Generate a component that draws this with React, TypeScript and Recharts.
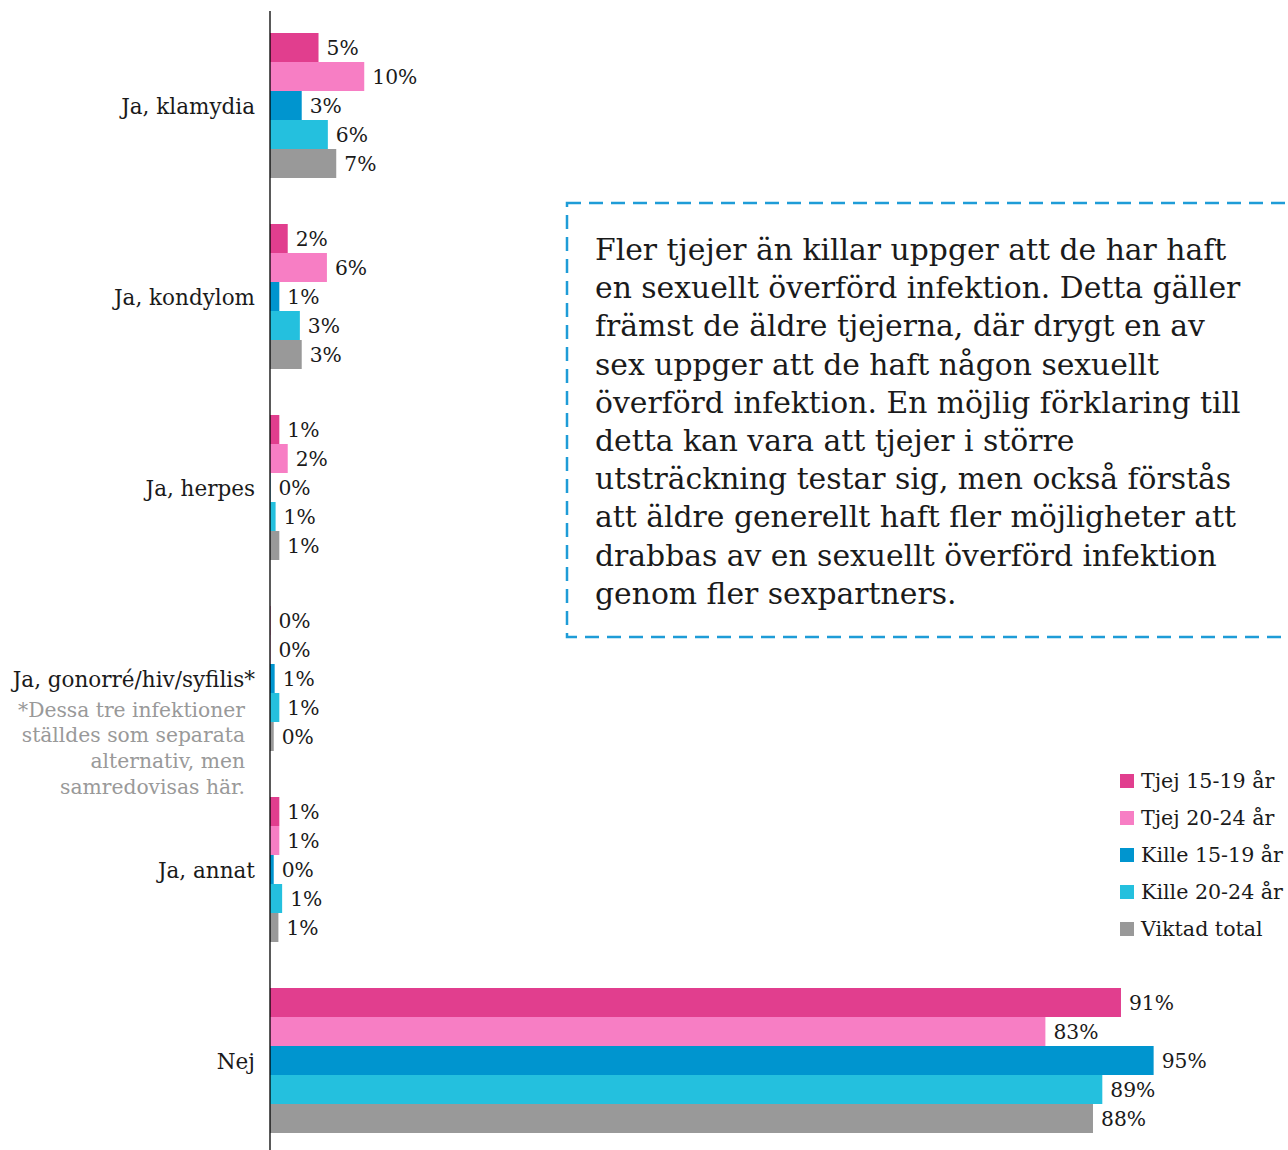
import React from "react";
import { BarChart, Bar, XAxis, YAxis, LabelList } from "recharts";

const categories = [
  "Ja, klamydia",
  "Ja, kondylom",
  "Ja, herpes",
  "Ja, gonorré/hiv/syfilis*",
  "Ja, annat",
  "Nej",
];
const tjej1519 = [5.2, 1.9, 1.0, 0.05, 1.0, 91.2];
const tjej2024 = [10.1, 6.1, 1.9, 0.05, 1.0, 83.1];
const kille1519 = [3.4, 1.0, 0.05, 0.5, 0.4, 94.7];
const kille2024 = [6.2, 3.2, 0.6, 1.0, 1.3, 89.2];
const viktadTotal = [7.1, 3.4, 1.0, 0.4, 0.9, 88.2];

const seriesNames = ["Tjej 15-19 år", "Tjej 20-24 år", "Kille 15-19 år", "Kille 20-24 år", "Viktad total"];
const seriesKeys = ["t1519", "t2024", "k1519", "k2024", "total"];
const seriesColors = ["#E13E8E", "#F77EC4", "#0095CF", "#24C0DE", "#999999"];

const footnoteLines = ["*Dessa tre infektioner", "ställdes som separata", "alternativ, men", "samredovisas här."];

const boxLines = [
  "Fler tjejer än killar uppger att de har haft",
  "en sexuellt överförd infektion. Detta gäller",
  "främst de äldre tjejerna, där drygt en av",
  "sex uppger att de haft någon sexuellt",
  "överförd infektion. En möjlig förklaring till",
  "detta kan vara att tjejer i större",
  "utsträckning testar sig, men också förstås",
  "att äldre generellt haft fler möjligheter att",
  "drabbas av en sexuellt överförd infektion",
  "genom fler sexpartners.",
];

const data = categories.map((c, i) => ({
  name: c,
  t1519: tjej1519[i],
  t2024: tjej2024[i],
  k1519: kille1519[i],
  k2024: kille2024[i],
  total: viktadTotal[i],
}));

const FONT = "'DejaVu Serif', serif";

const CatTick = (props: any) => {
  const { x, y, payload } = props;
  const isStar = payload.value === categories[3];
  return (
    <g>
      <text x={x} y={y} dy={7} textAnchor="end" fontFamily={FONT} fontSize={21.5} fill="#1a1a1a">
        {payload.value}
      </text>
      {isStar &&
        footnoteLines.map((l, i) => (
          <text key={i} x={x - 10} y={y + 31 + i * 25.7} dy={6} textAnchor="end" fontFamily={FONT} fontSize={20.3} fill="#999">
            {l}
          </text>
        ))}
    </g>
  );
};

const fmt = (v: any) => `${Math.round(Number(v))}%`;

export default function App() {
  return (
    <div style={{ position: "absolute", left: 0, top: 0, width: 1288, height: 1150, overflow: "hidden", background: "#fff" }}>
      <BarChart
        width={1288}
        height={1157}
        data={data}
        layout="vertical"
        margin={{ top: 11, right: 0, bottom: 0, left: 0 }}
        barCategoryGap={22}
        barGap={0}
      >
        <XAxis type="number" hide domain={[0, 109.1]} allowDataOverflow />
        <YAxis
          type="category"
          dataKey="name"
          width={270}
          tick={<CatTick />}
          tickLine={false}
          tickSize={0}
          tickMargin={15}
          axisLine={{ stroke: "#000", strokeWidth: 1.3 }}
          interval={0}
        />
        {seriesKeys.map((k, i) => (
          <Bar key={k} dataKey={k} name={seriesNames[i]} fill={seriesColors[i]} isAnimationActive={false}>
            <LabelList dataKey={k} position="right" offset={8} formatter={fmt} fontFamily={FONT} fontSize={20.3} fill="#1a1a1a" />
          </Bar>
        ))}
      </BarChart>
      <svg width={1288} height={1150} style={{ position: "absolute", left: 0, top: 0, pointerEvents: "none" }}>
        <rect x={567} y={203} width={800} height={434} fill="#fff" stroke="#1E9CD7" strokeWidth={2.5} strokeDasharray="14 8" />
        {boxLines.map((l, i) => (
          <text key={i} x={595} y={260 + i * 38.2} fontFamily={FONT} fontSize={29.8} fill="#1a1a1a">
            {l}
          </text>
        ))}
      </svg>
      <div style={{ position: "absolute", left: 1120, top: 762, width: 168, fontFamily: FONT, fontSize: 20.6, color: "#1a1a1a" }}>
        {seriesNames.map((n, i) => (
          <div key={n} style={{ display: "flex", alignItems: "center", height: 37 }}>
            <span style={{ display: "inline-block", width: 14, height: 14, background: seriesColors[i], marginRight: 7, flexShrink: 0 }} />
            <span style={{ whiteSpace: "nowrap" }}>{n}</span>
          </div>
        ))}
      </div>
    </div>
  );
}
